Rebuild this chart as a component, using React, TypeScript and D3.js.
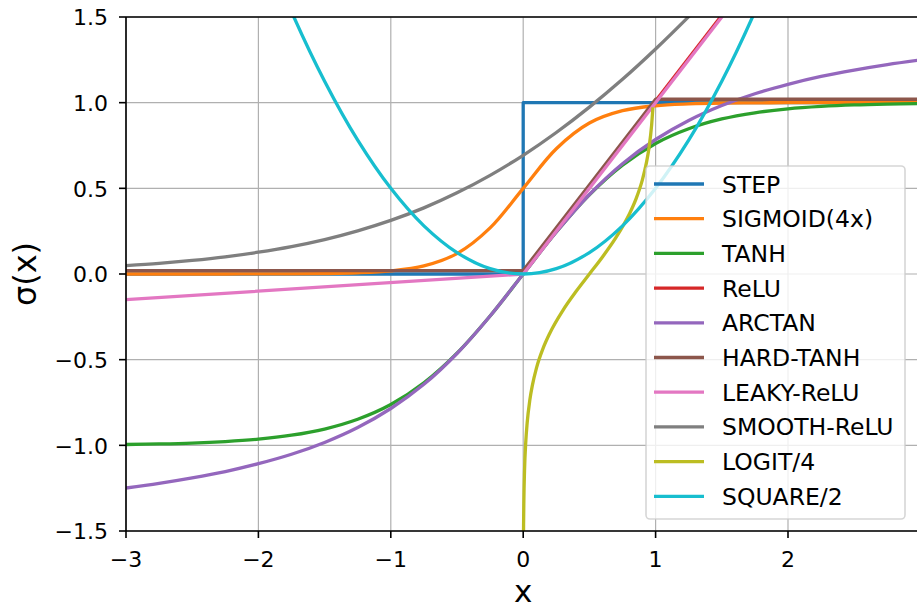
import { useRef, useEffect } from 'react';
import * as d3 from 'd3';

// shared x grid for the smooth curves
const X_GRID = [-3, -2.75, -2.5, -2.25, -2, -1.75, -1.5, -1.25, -1, -0.75, -0.5, -0.25, 0, 0.25, 0.5, 0.75, 1, 1.25, 1.5, 1.75, 2, 2.25, 2.5, 2.75, 3];

const SIGMOID_Y = [0, 0, 0, 0.0001, 0.0003, 0.0009, 0.0025, 0.0067, 0.018, 0.047, 0.119, 0.269, 0.5, 0.731, 0.881, 0.953, 0.982, 0.993, 0.998, 0.999, 1, 1, 1, 1, 1];
const TANH_Y = [-0.995, -0.992, -0.987, -0.978, -0.964, -0.941, -0.905, -0.848, -0.762, -0.635, -0.462, -0.245, 0, 0.245, 0.462, 0.635, 0.762, 0.848, 0.905, 0.941, 0.964, 0.978, 0.987, 0.992, 0.995];
const ARCTAN_Y = [-1.249, -1.222, -1.19, -1.153, -1.107, -1.052, -0.983, -0.896, -0.785, -0.644, -0.464, -0.245, 0, 0.245, 0.464, 0.644, 0.785, 0.896, 0.983, 1.052, 1.107, 1.153, 1.19, 1.222, 1.249];
const SMOOTH_RELU_Y = [0.049, 0.062, 0.079, 0.1, 0.127, 0.16, 0.201, 0.252, 0.313, 0.386, 0.474, 0.576, 0.693, 0.826, 0.974, 1.136, 1.313, 1.502, 1.701, 1.91, 2.127, 2.351, 2.579, 2.811, 3.049];
const SQUARE_Y = [4.5, 3.781, 3.125, 2.531, 2, 1.531, 1.125, 0.781, 0.5, 0.281, 0.125, 0.031, 0, 0.031, 0.125, 0.281, 0.5, 0.781, 1.125, 1.531, 2, 2.531, 3.125, 3.781, 4.5];

// piecewise series
const STEP_X = [-3, 0, 0, 3];
const STEP_Y = [0, 0, 1, 1];
const RELU_X = [0, 3];
const RELU_Y = [0.01, 3.01];
const HARD_TANH_X = [-3, 0, 1, 3];
const HARD_TANH_Y = [0.02, 0.02, 1.02, 1.02];
const LEAKY_X = [-3, 0, 3];
const LEAKY_Y = [-0.15, 0, 3];
const LOGIT_X = [0.001, 0.002, 0.003, 0.005, 0.01, 0.02, 0.03, 0.05, 0.07, 0.1, 0.15, 0.2, 0.3, 0.4, 0.5, 0.6, 0.7, 0.8, 0.85, 0.9, 0.93, 0.95, 0.97, 0.98];
const LOGIT_Y = [-1.727, -1.553, -1.451, -1.323, -1.149, -0.973, -0.869, -0.736, -0.647, -0.549, -0.434, -0.347, -0.212, -0.101, 0, 0.101, 0.212, 0.347, 0.434, 0.549, 0.647, 0.736, 0.869, 0.973];

const LABELS = ['STEP', 'SIGMOID(4x)', 'TANH', 'ReLU', 'ARCTAN', 'HARD-TANH', 'LEAKY-ReLU', 'SMOOTH-ReLU', 'LOGIT/4', 'SQUARE/2'];
const COLORS = ['#1f77b4', '#ff7f0e', '#2ca02c', '#d62728', '#9467bd', '#8c564b', '#e377c2', '#7f7f7f', '#bcbd22', '#17becf'];

const X_TICKS = [-3, -2, -1, 0, 1, 2];
const Y_TICKS = [-1.5, -1, -0.5, 0, 0.5, 1, 1.5];

const W = 917;
const H = 609;
const FONT = '"DejaVu Sans", sans-serif';

type Pt = [number, number];
const zip = (xs: number[], ys: number[]): Pt[] => xs.map((v, i) => [v, ys[i]]);

export default function App() {
  const svgRef = useRef<SVGSVGElement>(null);

  useEffect(() => {
    if (!svgRef.current) return;
    const svg = d3.select(svgRef.current);
    svg.selectAll('*').remove();

    const x = d3.scaleLinear().domain([-3, 3]).range([126, 920.4]);
    const y = d3.scaleLinear().domain([-1.5, 1.5]).range([531, 17]);
    const left = 126, right = W, top = 17, bottom = 531;

    svg.append('rect').attr('width', W).attr('height', H).attr('fill', '#fff');

    svg.append('defs').append('clipPath').attr('id', 'plot-clip')
      .append('rect')
      .attr('x', left).attr('y', top)
      .attr('width', right - left).attr('height', bottom - top);

    // grid
    const grid = svg.append('g').attr('stroke', '#b0b0b0').attr('stroke-width', 1.2);
    X_TICKS.forEach(t => {
      grid.append('line').attr('x1', x(t)).attr('x2', x(t)).attr('y1', top).attr('y2', bottom);
    });
    Y_TICKS.forEach(t => {
      grid.append('line').attr('x1', left).attr('x2', right).attr('y1', y(t)).attr('y2', y(t));
    });

    // series
    const series: { pts: Pt[]; curve: d3.CurveFactory }[] = [
      { pts: zip(STEP_X, STEP_Y), curve: d3.curveLinear },
      { pts: zip(X_GRID, SIGMOID_Y), curve: d3.curveCatmullRom.alpha(0.5) },
      { pts: zip(X_GRID, TANH_Y), curve: d3.curveCatmullRom.alpha(0.5) },
      { pts: zip(RELU_X, RELU_Y), curve: d3.curveLinear },
      { pts: zip(X_GRID, ARCTAN_Y), curve: d3.curveCatmullRom.alpha(0.5) },
      { pts: zip(HARD_TANH_X, HARD_TANH_Y), curve: d3.curveLinear },
      { pts: zip(LEAKY_X, LEAKY_Y), curve: d3.curveLinear },
      { pts: zip(X_GRID, SMOOTH_RELU_Y), curve: d3.curveCatmullRom.alpha(0.5) },
      { pts: zip(LOGIT_X, LOGIT_Y), curve: d3.curveMonotoneX },
      { pts: zip(X_GRID, SQUARE_Y), curve: d3.curveCatmullRom.alpha(0.5) },
    ];

    const lines = svg.append('g').attr('clip-path', 'url(#plot-clip)');
    series.forEach((s, i) => {
      const line = d3.line<Pt>().x(d => x(d[0])).y(d => y(d[1])).curve(s.curve);
      lines.append('path')
        .attr('d', line(s.pts))
        .attr('fill', 'none')
        .attr('stroke', COLORS[i])
        .attr('stroke-width', 3.3)
        .attr('stroke-linejoin', 'round');
    });

    // spines
    const spines = svg.append('g').attr('stroke', '#000').attr('stroke-width', 1.6);
    spines.append('line').attr('x1', left).attr('x2', left).attr('y1', top).attr('y2', bottom);
    spines.append('line').attr('x1', left).attr('x2', right).attr('y1', bottom).attr('y2', bottom);
    spines.append('line').attr('x1', left).attr('x2', right).attr('y1', top).attr('y2', top);

    const fmt = (v: number, digits: number) => {
      const s = Math.abs(v).toFixed(digits);
      return v < 0 ? '\u2212' + s : s;
    };

    // x ticks
    X_TICKS.forEach(t => {
      svg.append('line').attr('x1', x(t)).attr('x2', x(t)).attr('y1', bottom).attr('y2', bottom + 7)
        .attr('stroke', '#000').attr('stroke-width', 1.6);
      svg.append('text')
        .attr('x', x(t)).attr('y', 567)
        .attr('text-anchor', 'middle')
        .attr('font-family', FONT).attr('font-size', 22).attr('fill', '#000')
        .text(fmt(t, 0));
    });

    // y ticks
    Y_TICKS.forEach(t => {
      svg.append('line').attr('x1', left - 7).attr('x2', left).attr('y1', y(t)).attr('y2', y(t))
        .attr('stroke', '#000').attr('stroke-width', 1.6);
      svg.append('text')
        .attr('x', 108).attr('y', y(t) + 8.3)
        .attr('text-anchor', 'end')
        .attr('font-family', FONT).attr('font-size', 22).attr('fill', '#000')
        .text(fmt(t, 1));
    });

    // axis labels
    svg.append('text')
      .attr('x', x(0)).attr('y', 602)
      .attr('text-anchor', 'middle')
      .attr('font-family', FONT).attr('font-size', 31).attr('fill', '#000')
      .text('x');
    svg.append('text')
      .attr('transform', `translate(36, ${(top + bottom) / 2}) rotate(-90)`)
      .attr('text-anchor', 'middle')
      .attr('font-family', FONT).attr('font-size', 32).attr('fill', '#000')
      .text('σ(x)');

    // legend
    const lg = svg.append('g');
    lg.append('rect')
      .attr('x', 646).attr('y', 166).attr('width', 259).attr('height', 353)
      .attr('rx', 4)
      .attr('fill', '#fff').attr('fill-opacity', 0.8)
      .attr('stroke', '#cccccc').attr('stroke-opacity', 0.8).attr('stroke-width', 1.6);
    LABELS.forEach((label, i) => {
      const cy = 184 + i * 34.7;
      lg.append('line')
        .attr('x1', 654).attr('x2', 704).attr('y1', cy).attr('y2', cy)
        .attr('stroke', COLORS[i]).attr('stroke-width', 3.3);
      lg.append('text')
        .attr('x', 722).attr('y', cy + 8.5)
        .attr('font-family', FONT).attr('font-size', 23.5).attr('fill', '#000')
        .text(label);
    });
  }, []);

  return (
    <svg
      ref={svgRef}
      width={W}
      height={H}
      style={{ position: 'absolute', left: 0, top: 0, display: 'block' }}
    />
  );
}
